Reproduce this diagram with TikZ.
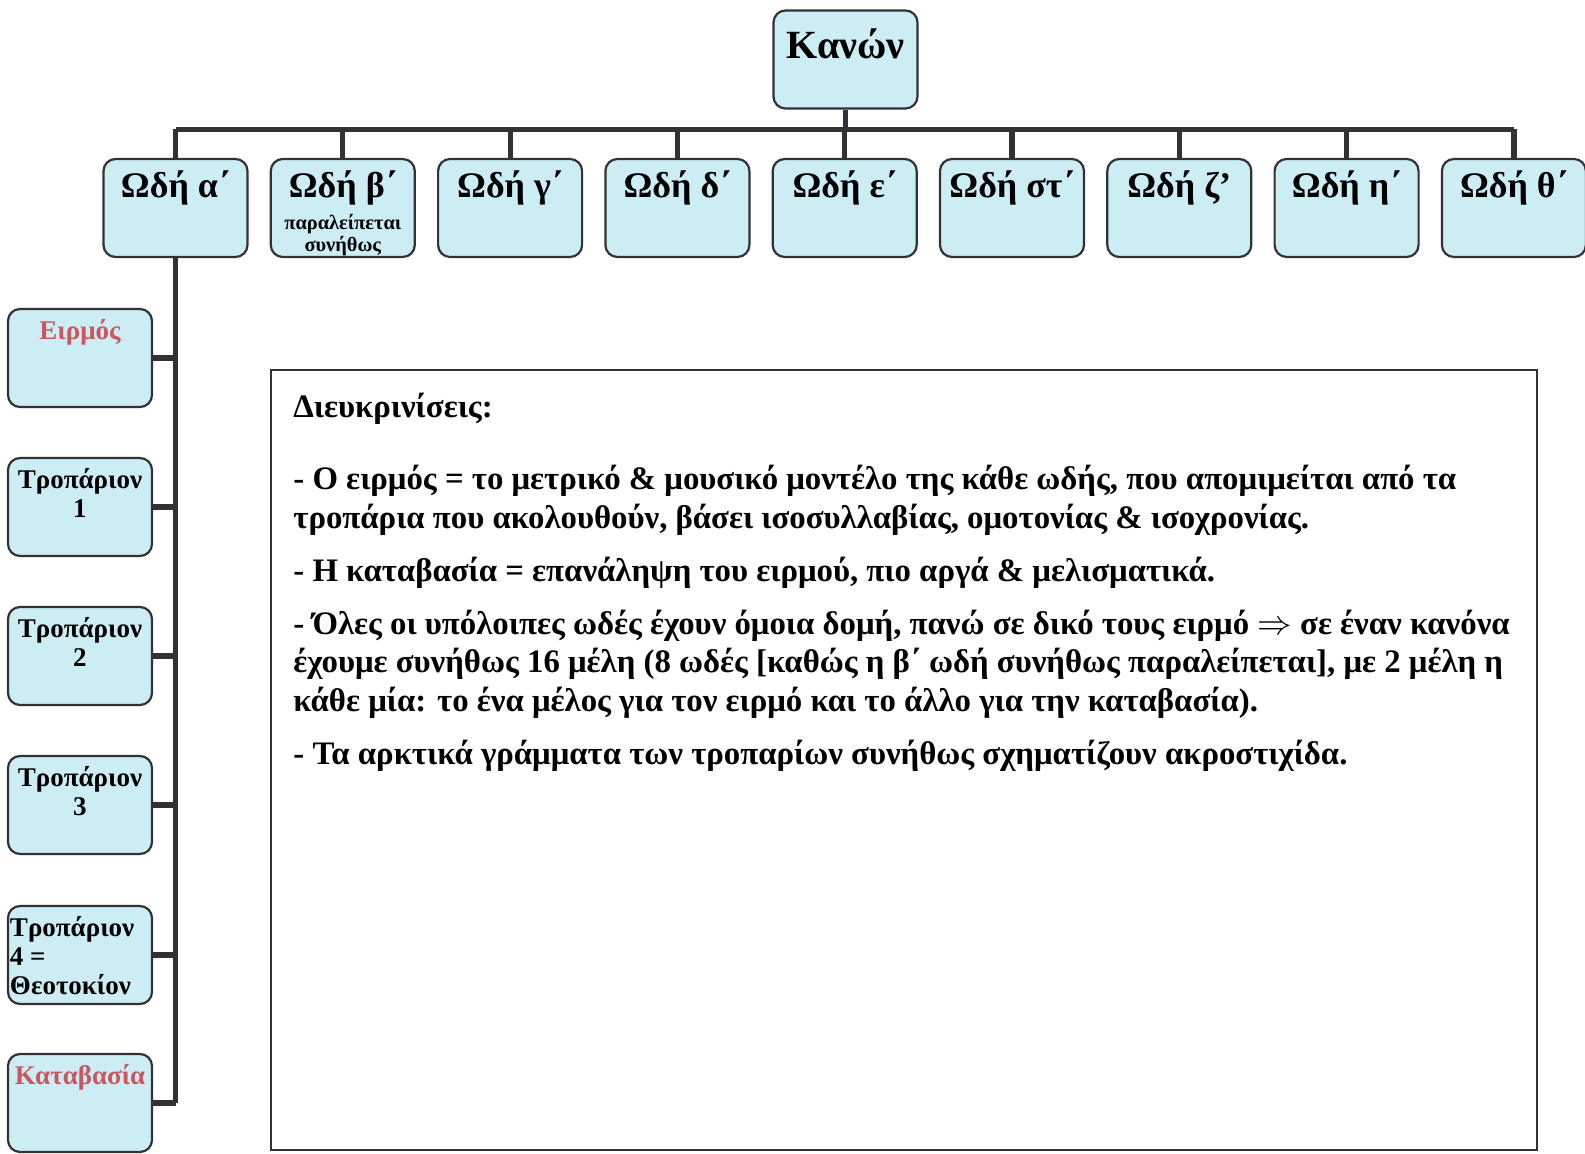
\documentclass[tikz,border=0pt]{standalone}
\usepackage{fontspec}
\setmainfont{Liberation Serif}
\definecolor{boxfill}{RGB}{205,237,245}
\definecolor{redlab}{RGB}{204,86,96}
\definecolor{wire}{RGB}{50,50,54}
% text hung from the top of a box
\newcommand\topin[3]{\parbox[c][#1][t]{70pt}{\centering\vspace*{#2}#3\par}}
\newcommand\lefttop[3]{\parbox[c][#1][t]{70pt}{\raggedright\vspace*{#2}#3\par}}
\newcommand\subnote{\fontsize{10.2}{9.2}\selectfont παραλείπεται\\συνήθως}
\tikzset{
  box/.style={draw=wire,line width=1.1pt,rounded corners=6pt,fill=boxfill,
    minimum width=72pt,minimum height=49pt,inner sep=0pt},
  bus/.style={draw=wire,line width=2.6pt},
  frame/.style={draw=wire,line width=0.8pt,minimum width=633pt,minimum height=390pt,inner sep=0pt},
}
\begin{document}
\begin{tikzpicture}[x=0.5pt,y=-0.5pt,font=\bfseries]
\useasboundingbox (0,0) rectangle (1585,1154);
\node[box] (kanon) at (845.5,59.5) {\topin{49pt}{9pt}{\fontsize{20}{22}\selectfont Κανών}};
\coordinate (busL) at (175.5,129.5);
\coordinate (busR) at (1514,129.5);
\draw[bus] (busL) -- (busR);
\draw[bus] (kanon.south) -- (kanon.south |- busL);
\foreach \i/\lab/\sub in {1/α΄/{},2/β΄/{\\[3.5pt]\subnote},
  3/γ΄/{},4/δ΄/{},5/ε΄/{},6/στ΄/{},7/ζ’/{},8/η΄/{},9/θ΄/{}}{
\node[box] (ode\i) at ({175.5+(\i-1)*167.3},208) {\topin{49pt}{6pt}{\fontsize{18}{19}\selectfont Ωδή \lab\sub}};
\draw[bus] (ode\i.north) -- (ode\i.north |- busL);
}
% left column
\coordinate (spineEnd) at (175.5,1103);
\draw[bus] (ode1.south) -- (spineEnd);
\foreach \j/\txt in {0/{\color{redlab}Ειρμός},1/{Τροπάριον\\1},2/{Τροπάριον\\2},3/{Τροπάριον\\3}}{
\node[box] (part\j) at (80,{358+\j*149}) {\topin{49pt}{5pt}{\fontsize{13.5}{14.5}\selectfont \txt}};
\draw[bus] (part\j.east) -- (part\j.east -| spineEnd);
}
\node[box] (part4) at (80,955) {\lefttop{49pt}{5pt}{\fontsize{13.5}{14.5}\selectfont Τροπάριον\\4 =\\Θεοτοκίον}};
\draw[bus] (part4.east) -- (part4.east -| spineEnd);
\node[box] (part5) at (80,1103) {\topin{49pt}{5pt}{\fontsize{13.5}{14.5}\selectfont \color{redlab}Καταβασία}};
\draw[bus] (part5.east) -- (spineEnd);
% notes
\node[frame] (frm) at (904,760) {};
\node[anchor=base west,align=left,inner sep=0pt,font=\bfseries\fontsize{16.4}{19.2}\selectfont] (notes) at (293,764)
{Διευκρινίσεις:\\[17pt]
- Ο ειρμός = το μετρικό \& μουσικό μοντέλο της κάθε ωδής, που απομιμείται από τα\\
τροπάρια που ακολουθούν, βάσει ισοσυλλαβίας, ομοτονίας \& ισοχρονίας.\\[7.3pt]
- Η καταβασία = επανάληψη του ειρμού, πιο αργά \& μελισματικά.\\[7.3pt]
- Όλες οι υπόλοιπες ωδές έχουν όμοια δομή, πανώ σε δικό τους ειρμό $\Rightarrow$ σε έναν κανόνα\\
έχουμε συνήθως 16 μέλη (8 ωδές [καθώς η β΄ ωδή συνήθως παραλείπεται], με 2 μέλη η\\
κάθε μία: το ένα μέλος για τον ειρμό και το άλλο για την καταβασία).\\[7.3pt]
- Τα αρκτικά γράμματα των τροπαρίων συνήθως σχηματίζουν ακροστιχίδα.};
\end{tikzpicture}
\end{document}
